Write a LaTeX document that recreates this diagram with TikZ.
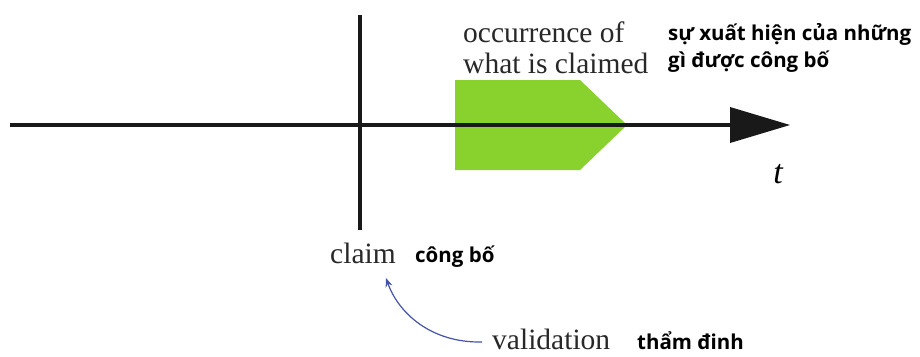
\documentclass[tikz,border=0pt]{standalone}
\usepackage{fontspec}
\setmainfont{Liberation Serif}
\newfontfamily\vnfont{Open Sans}
\definecolor{leafgreen}{RGB}{137,210,46}
\definecolor{textgray}{RGB}{40,40,40}
\definecolor{arrowblue}{RGB}{68,84,170}
\usetikzlibrary{arrows.meta}
\begin{document}
\begin{tikzpicture}[x=1pt,y=-1pt,
  serif/.style={font=\fontsize{29.5}{31}\selectfont, text=textgray, inner sep=0pt},
  vn/.style={font=\vnfont\bfseries\fontsize{20.5}{27}\selectfont, text=black, inner sep=0pt, align=left},
  axis/.style={line width=4.5pt, draw=black!90}]
\useasboundingbox (0,0) rectangle (920,356);
% green pentagon
\fill[leafgreen] (455,80) -- (580,80) -- (627,125) -- (580,170) -- (455,170) -- cycle;
% time axis
\coordinate (start) at (10,125);
\coordinate (tip) at (790,125);
\draw[axis] (start) -- (735,125);
\fill[black!90] (730,107) -- (tip) -- (730,143) -- cycle;
% vertical line
\coordinate (vtop) at (360,15);
\coordinate (vbot) at (360,230);
\draw[axis, line width=4pt] (vtop) -- (vbot);
% labels
\node[serif, anchor=base west, align=left] (occ) at (463,73) {occurrence of\\what is claimed};
\node[vn, anchor=base west] (occvn) at (668,67) {sự xuất hiện của những\\gì được công bố};
\node[font=\fontsize{34}{36}\selectfont\itshape, inner sep=0pt, anchor=base] (t) at (778,183) {t};
\node[serif, anchor=base] (claim) at (363,263) {claim};
\node[vn, anchor=base west] (claimvn) at (415,262) {công bố};
\node[serif, anchor=base west] (valid) at (492,349) {validation};
\node[vn, anchor=base west] (validvn) at (637,349) {thẩm đinh};
\coordinate (vs) at (482,342);
\coordinate (ve) at (386,278);
\draw[arrowblue, line width=1.2pt, -{Stealth[length=9pt,width=7pt]}] (vs) .. controls (430,343) and (398,312) .. (ve);
\end{tikzpicture}
\end{document}
